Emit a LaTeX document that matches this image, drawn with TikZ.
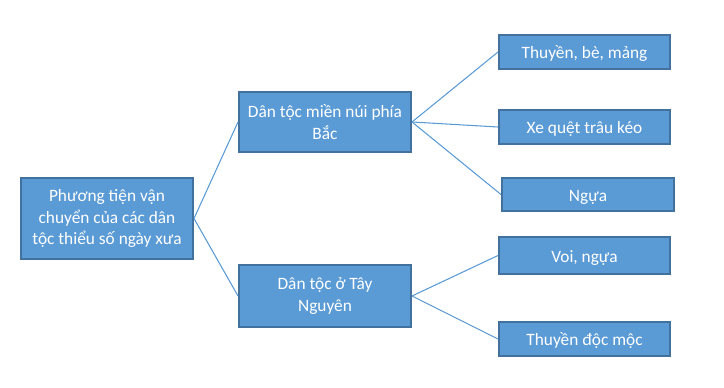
\documentclass[tikz,border=0pt]{standalone}
\usepackage{fontspec}
\setmainfont{Carlito}
\definecolor{boxfill}{HTML}{5B9BD5}
\definecolor{boxline}{HTML}{41719C}
\begin{document}
\begin{tikzpicture}[x=0.75pt,y=-0.75pt,
  box/.style={draw=boxline,line width=1.5pt,fill=boxfill,text=white,align=center,
    font=\fontsize{13pt}{16.1pt}\selectfont,inner sep=0pt},
  leaf/.style={box,text height=1.2em,text depth=0.2em},
  link/.style={draw=boxfill,line width=0.8pt}]
\useasboundingbox (0,0) rectangle (724,388);
\node[box,minimum width=172*0.75pt,minimum height=81*0.75pt] (root) at (107,218.5)
  {Phương tiện vận\\chuyển của các dân\\tộc thiểu số ngày xưa};
\node[box,minimum width=172*0.75pt,minimum height=60*0.75pt] (north) at (325,122)
  {Dân tộc miền núi phía\\Bắc};
\node[box,minimum width=172*0.75pt,minimum height=62*0.75pt] (west) at (325,296)
  {Dân tộc ở Tây\\Nguyên};
\node[leaf,minimum width=171*0.75pt,minimum height=34*0.75pt] (l1) at (584.5,52) {Thuyền, bè, mảng};
\node[leaf,minimum width=171*0.75pt,minimum height=34*0.75pt] (l2) at (584.5,127) {Xe quệt trâu kéo};
\node[leaf,minimum width=172*0.75pt,minimum height=33*0.75pt] (l3) at (588,194.5) {Ngựa};
\node[leaf,minimum width=171*0.75pt,minimum height=37*0.75pt] (l4) at (584.5,255.5) {Voi, ngựa};
\node[leaf,minimum width=171*0.75pt,minimum height=34*0.75pt] (l5) at (584.5,339) {Thuyền độc mộc};
\draw[link] (root.east) -- (north.west);
\draw[link] (root.east) -- (west.west);
\draw[link] (north.east) -- (l1.west);
\draw[link] (north.east) -- (l2.west);
\draw[link] (north.east) -- (l3.west);
\draw[link] (west.east) -- (l4.west);
\draw[link] (west.east) -- (l5.west);
\end{tikzpicture}
\end{document}
